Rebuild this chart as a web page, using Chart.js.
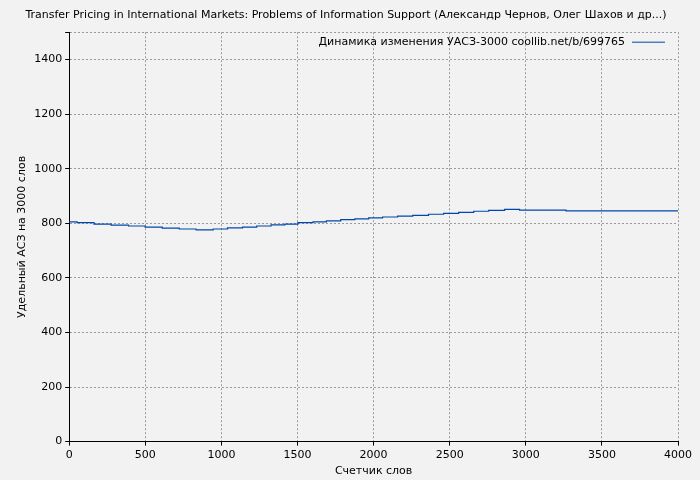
<!DOCTYPE html><html><head><meta charset="utf-8">
<script src="https://cdn.jsdelivr.net/npm/chart.js@4"></script>
<style>html,body{margin:0;background:#f2f2f2}#w{width:700px;height:480px}</style></head><body><div id="w"><canvas id="c"></canvas></div>
<script>
const titleText='Transfer Pricing in International Markets: Problems of Information Support (Александр Чернов, Олег Шахов и др...)';
const seriesName='Динамика изменения УАСЗ-3000 coollib.net/b/699765';
const words=[0,52,163,275,390,499,611,723,834,946,1040,1139,1232,1326,1417,1503,1602,1690,1784,1877,1968,2059,2158,2257,2361,2460,2559,2658,2756,2861,2959,3264,3761,4000];
const values=[809,805,802,797,793,790,786,782,779,776,779,783,786,790,794,797,802,805,809,813,816,820,823,826,829,833,836,840,844,847,851,848,845,845];
const font={family:'DejaVu Sans',size:11,weight:'normal'};
const legendPlugin={id:'lg',afterDraw(ch){const a=ch.chartArea,c=ch.ctx;c.save();c.font='11px DejaVu Sans';c.fillStyle='#000';c.textAlign='right';c.textBaseline='middle';c.fillText(seriesName,a.right-53,a.top+10);c.strokeStyle='#0047ab';c.lineWidth=1;c.beginPath();c.moveTo(a.right-46,a.top+10);c.lineTo(a.right-13,a.top+10);c.stroke();c.restore();}};
const grid={color:'#999',tickColor:'#000',tickLength:4};
const border={color:'#000',dash:[2,2]};
new Chart(document.getElementById('c'),{type:'line',
data:{datasets:[{data:words.map((x,i)=>({x,y:values[i]})),borderColor:'#0047ab',borderWidth:1.2,pointRadius:0,stepped:'after'}]},
options:{responsive:true,maintainAspectRatio:false,animation:false,
layout:{padding:{left:14,right:22,top:0,bottom:2}},
plugins:{legend:{display:false},title:{display:true,text:titleText,color:'#000',font:font,padding:{top:9,bottom:10}}},
scales:{x:{type:'linear',min:0,max:4000,ticks:{stepSize:500,color:'#000',font:font,callback:v=>String(v)},border:border,grid:grid,title:{display:true,text:'Счетчик слов',color:'#000',font:font,padding:0}},
y:{min:0,max:1500,ticks:{stepSize:200,color:'#000',font:font,callback:v=>v>1400?'':String(v)},border:border,grid:grid,title:{display:true,text:'Удельный АСЗ на 3000 слов',color:'#000',font:font,padding:2}}}},
plugins:[legendPlugin]});
</script></body></html>
